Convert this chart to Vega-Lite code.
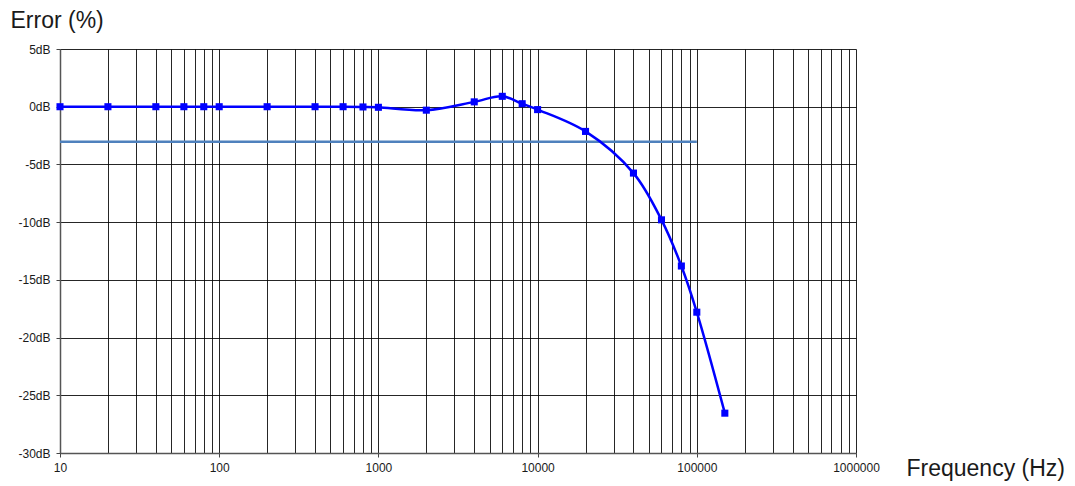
{
  "$schema": "https://vega.github.io/schema/vega-lite/v6.json",
  "width": 796,
  "height": 404,
  "autosize": {"type": "none"},
  "padding": {"left": 60, "top": 49, "right": 219, "bottom": 33},
  "background": "white",
  "config": {
    "view": {"stroke": null},
    "font": "Liberation Sans"
  },
  "datasets": {
    "main": [
      {"freq": 10, "db": 0},
      {"freq": 20, "db": 0},
      {"freq": 40, "db": 0},
      {"freq": 60, "db": 0},
      {"freq": 80, "db": 0},
      {"freq": 100, "db": 0},
      {"freq": 200, "db": 0},
      {"freq": 400, "db": 0},
      {"freq": 600, "db": 0},
      {"freq": 800, "db": -0.02},
      {"freq": 1000, "db": -0.05},
      {"freq": 2000, "db": -0.3},
      {"freq": 4000, "db": 0.42},
      {"freq": 6000, "db": 0.9},
      {"freq": 8000, "db": 0.26},
      {"freq": 10000, "db": -0.25},
      {"freq": 20000, "db": -2.14},
      {"freq": 40000, "db": -5.75},
      {"freq": 60000, "db": -9.8},
      {"freq": 80000, "db": -13.8},
      {"freq": 100000, "db": -17.8},
      {"freq": 150000, "db": -26.55}
    ],
    "ref": [
      {"freq": 10, "db": -3.03},
      {"freq": 100000, "db": -3.03}
    ]
  },
  "encoding": {
    "x": {
      "field": "freq",
      "type": "quantitative",
      "scale": {"type": "log", "domain": [10, 1000000], "nice": false},
      "axis": {
        "title": "Frequency (Hz)",
        "titleFont": "Liberation Sans",
        "titleFontSize": 23,
        "titleFontWeight": "normal",
        "titleColor": "#1a1a1a",
        "titleAlign": "left",
        "titleBaseline": "alphabetic",
        "titleAnchor": "start",
        "titleX": 846,
        "titleY": 22,
        "values": [10,20,30,40,50,60,70,80,90,100,200,300,400,500,600,700,800,900,1000,2000,3000,4000,5000,6000,7000,8000,9000,10000,20000,30000,40000,50000,60000,70000,80000,90000,100000,200000,300000,400000,500000,600000,700000,800000,900000,1000000],
        "format": "d",
        "labelExpr": "indexof(['10','100','1000','10000','100000','1000000'], datum.label) >= 0 ? datum.label : ''",
        "labelFontSize": 12,
        "labelColor": "#1a1a1a",
        "labelPadding": 5,
        "labelOverlap": false,
        "labelFlush": false,
        "tickSize": 4,
        "tickColor": "#444",
        "tickOpacity": {"condition": {"test": "indexof([10,100,1000,10000,100000,1000000], datum.value) >= 0", "value": 1}, "value": 0},
        "domainColor": "#555",
        "domainWidth": 1.5,
        "grid": true,
        "gridColor": "#000",
        "gridOpacity": 0.85,
        "gridWidth": 1
      }
    },
    "y": {
      "field": "db",
      "type": "quantitative",
      "scale": {"domain": [-30, 5], "nice": false, "zero": false},
      "axis": {
        "title": "Error (%)",
        "titleFont": "Liberation Sans",
        "titleFontSize": 23,
        "titleFontWeight": "normal",
        "titleColor": "#1a1a1a",
        "titleAngle": 0,
        "titleAlign": "left",
        "titleBaseline": "alphabetic",
        "titleX": -50,
        "titleY": -22,
        "values": [-30, -25, -20, -15, -10, -5, 0, 5],
        "labelExpr": "datum.value + 'dB'",
        "labelFontSize": 12,
        "labelColor": "#1a1a1a",
        "labelPadding": 6,
        "tickSize": 4,
        "tickColor": "#444",
        "domainColor": "#555",
        "domainWidth": 1.5,
        "grid": true,
        "gridColor": "#000",
        "gridOpacity": 0.85,
        "gridWidth": 1
      }
    }
  },
  "layer": [
    {
      "data": {"name": "ref"},
      "mark": {"type": "line", "color": "#4F81BD", "strokeWidth": 2.5, "clip": true}
    },
    {
      "data": {"name": "main"},
      "mark": {
        "type": "line",
        "color": "#0000FF",
        "strokeWidth": 2.5,
        "interpolate": "catmull-rom",
        "point": {"shape": "square", "filled": true, "size": 50, "color": "#0000FF", "opacity": 1}
      }
    }
  ]
}
